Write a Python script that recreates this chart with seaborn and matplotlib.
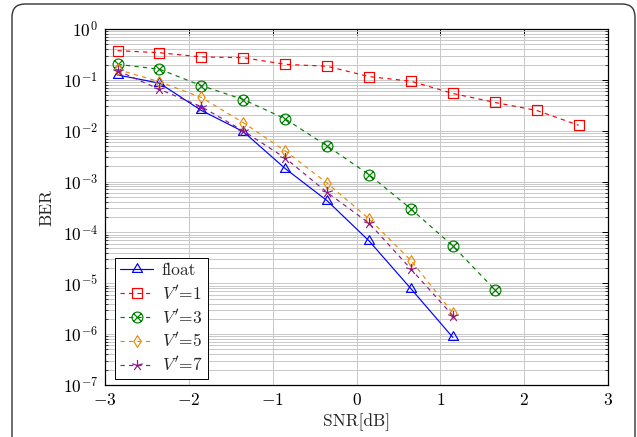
import numpy as np
import pandas as pd
import matplotlib
matplotlib.use("Agg")
import matplotlib.pyplot as plt
from matplotlib.path import Path
from matplotlib.patches import FancyBboxPatch
from matplotlib.ticker import FixedLocator, LogLocator, NullFormatter
import seaborn as sns

# ---------------- data ----------------
snr_float = [-2.85, -2.35, -1.85, -1.35, -0.85, -0.35, 0.15, 0.65, 1.15]
ber_float = [0.125, 0.086, 0.025, 0.0096, 0.0018, 4.2e-4, 6.8e-5, 7.8e-6, 8.6e-7]

snr_v1 = [-2.85, -2.35, -1.85, -1.35, -0.85, -0.35, 0.15, 0.65, 1.15, 1.65, 2.15, 2.65]
ber_v1 = [0.375, 0.342, 0.282, 0.273, 0.202, 0.185, 0.116, 0.094, 0.054, 0.036, 0.025, 0.0128]

snr_v3 = [-2.85, -2.35, -1.85, -1.35, -0.85, -0.35, 0.15, 0.65, 1.15, 1.65]
ber_v3 = [0.202, 0.162, 0.077, 0.041, 0.0171, 0.0050, 1.37e-3, 2.9e-4, 5.4e-5, 7.5e-6]

snr_v5 = [-2.85, -2.35, -1.85, -1.35, -0.85, -0.35, 0.15, 0.65, 1.15]
ber_v5 = [0.16, 0.092, 0.045, 0.0144, 0.0040, 9.3e-4, 1.85e-4, 2.8e-5, 2.6e-6]

snr_v7 = [-2.85, -2.35, -1.85, -1.35, -0.85, -0.35, 0.15, 0.65, 1.15]
ber_v7 = [0.152, 0.065, 0.0297, 0.0099, 0.0029, 6.1e-4, 1.52e-4, 1.9e-5, 2.3e-6]

series_names = ["float", "$V'$=1", "$V'$=3", "$V'$=5", "$V'$=7"]

xtick_values = [-3, -2, -1, 0, 1, 2, 3]
xtick_labels = [r"$-3$", r"$-2$", r"$-1$", r"$0$", r"$1$", r"$2$", r"$3$"]
ytick_values = [1e0, 1e-1, 1e-2, 1e-3, 1e-4, 1e-5, 1e-6, 1e-7]
ytick_labels = [r"$10^{0}$", r"$10^{-1}$", r"$10^{-2}$", r"$10^{-3}$",
                r"$10^{-4}$", r"$10^{-5}$", r"$10^{-6}$", r"$10^{-7}$"]

# ---------------- style ----------------
sns.set_style("white")
plt.rcParams["font.family"] = ["serif"]
plt.rcParams["font.serif"] = ["cmr10", "DejaVu Serif"]
plt.rcParams["mathtext.fontset"] = "cm"
plt.rcParams["axes.formatter.use_mathtext"] = True
plt.rcParams["axes.unicode_minus"] = True

FS = 12.5

colors = {series_names[0]: "#0000ff", series_names[1]: "#ff0000",
          series_names[2]: "#008000", series_names[3]: "#e88a0c",
          series_names[4]: "#8c1a86"}

# marker shapes (pgfplots-like)
tri = Path([(0, 1), (-0.866, -0.5), (0.866, -0.5), (0, 1)],
           [Path.MOVETO, Path.LINETO, Path.LINETO, Path.CLOSEPOLY])
sq = Path([(-1, -1), (1, -1), (1, 1), (-1, 1), (-1, -1)],
          [Path.MOVETO, Path.LINETO, Path.LINETO, Path.LINETO, Path.CLOSEPOLY])
circ = Path.unit_circle()
d = 0.7071
xline = Path([(-d, -d), (d, d), (-d, d), (d, -d)],
             [Path.MOVETO, Path.LINETO, Path.MOVETO, Path.LINETO])
otimes = Path.make_compound_path(circ, xline)
dia = Path([(0, 1), (0.62, 0), (0, -1), (-0.62, 0), (0, 1)],
           [Path.MOVETO, Path.LINETO, Path.LINETO, Path.LINETO, Path.CLOSEPOLY])
sv, sc = [], []
for k in range(5):
    a = np.deg2rad(90 + 72 * k)
    sv += [(0, 0), (np.cos(a), np.sin(a))]
    sc += [Path.MOVETO, Path.LINETO]
star = Path(sv, sc)

markers = {series_names[0]: tri, series_names[1]: sq, series_names[2]: otimes,
           series_names[3]: dia, series_names[4]: star}
msizes = {series_names[0]: 8.4, series_names[1]: 7.4, series_names[2]: 7.8,
          series_names[3]: 8.4, series_names[4]: 8.0}
dashes = {series_names[0]: "", series_names[1]: (3.6, 3.6), series_names[2]: (3.6, 3.6),
          series_names[3]: (3.6, 3.6), series_names[4]: (3.6, 3.6)}

frames = []
for name, xs, ys in zip(series_names,
                        [snr_float, snr_v1, snr_v3, snr_v5, snr_v7],
                        [ber_float, ber_v1, ber_v3, ber_v5, ber_v7]):
    frames.append(pd.DataFrame({"SNR": xs, "BER": ys, "series": name}))
df = pd.concat(frames, ignore_index=True)

fig = plt.figure(figsize=(6.37, 4.37), dpi=100)
ax = fig.add_axes([105 / 637, 1 - 385 / 437, 503 / 637, 356 / 437])

sns.lineplot(data=df, x="SNR", y="BER", hue="series", style="series",
             hue_order=series_names, style_order=series_names,
             palette=colors, markers=markers, dashes=dashes,
             linewidth=0.85, legend=False, ax=ax, sort=False)

for line, name in zip(ax.lines, series_names):
    c = colors[name]
    line.set_color(c)
    line.set_markerfacecolor("none")
    line.set_markeredgecolor(c)
    line.set_markeredgewidth(0.85)
    line.set_markersize(msizes[name])
    line.set_zorder(3)

ax.set_yscale("log")
ax.set_xlim(-3, 3)
ax.set_ylim(1e-7, 1e0)

ax.xaxis.set_major_locator(FixedLocator(xtick_values))
ax.set_xticklabels(xtick_labels)
ax.yaxis.set_major_locator(FixedLocator(ytick_values))
ax.set_yticklabels(ytick_labels)
ax.yaxis.set_minor_locator(LogLocator(base=10, subs=np.arange(2, 10), numticks=20))
ax.yaxis.set_minor_formatter(NullFormatter())

ax.tick_params(axis="both", which="major", direction="in", length=4, width=0.7,
               top=True, right=True, labelsize=FS, pad=5, colors="black")
ax.tick_params(axis="y", which="minor", direction="in", length=2, width=0.6,
               left=True, right=True)
ax.tick_params(axis="x", which="minor", bottom=False, top=False)

ax.grid(True, which="major", axis="x", color="#c8c8c8", linewidth=0.7)
ax.grid(True, which="major", axis="y", color="#c8c8c8", linewidth=0.7)
ax.grid(True, which="minor", axis="y", color="#c8c8c8", linewidth=0.7)
ax.set_axisbelow(True)

for s in ax.spines.values():
    s.set_color("black")
    s.set_linewidth(0.9)

ax.set_xlabel("SNR[dB]", fontsize=FS, labelpad=4)
ax.set_ylabel("BER", fontsize=FS, labelpad=6)

leg = ax.legend(handles=ax.lines, labels=series_names, loc="lower left",
                bbox_to_anchor=(10 / 503, 6 / 356), borderaxespad=0,
                fontsize=FS, frameon=True, fancybox=False, framealpha=1,
                edgecolor="black", handlelength=1.9, handletextpad=0.5,
                labelspacing=0.3, borderpad=0.3, numpoints=1)
leg.get_frame().set_linewidth(0.7)

# rounded outer frame
frame = FancyBboxPatch((0.12, -0.5), 6.23, 4.83,
                       boxstyle="round,pad=0,rounding_size=0.13",
                       transform=fig.dpi_scale_trans, facecolor="none",
                       edgecolor="#333333", linewidth=1.0, zorder=-1)
fig.patches.append(frame)

fig.savefig("out.png", dpi=100)
